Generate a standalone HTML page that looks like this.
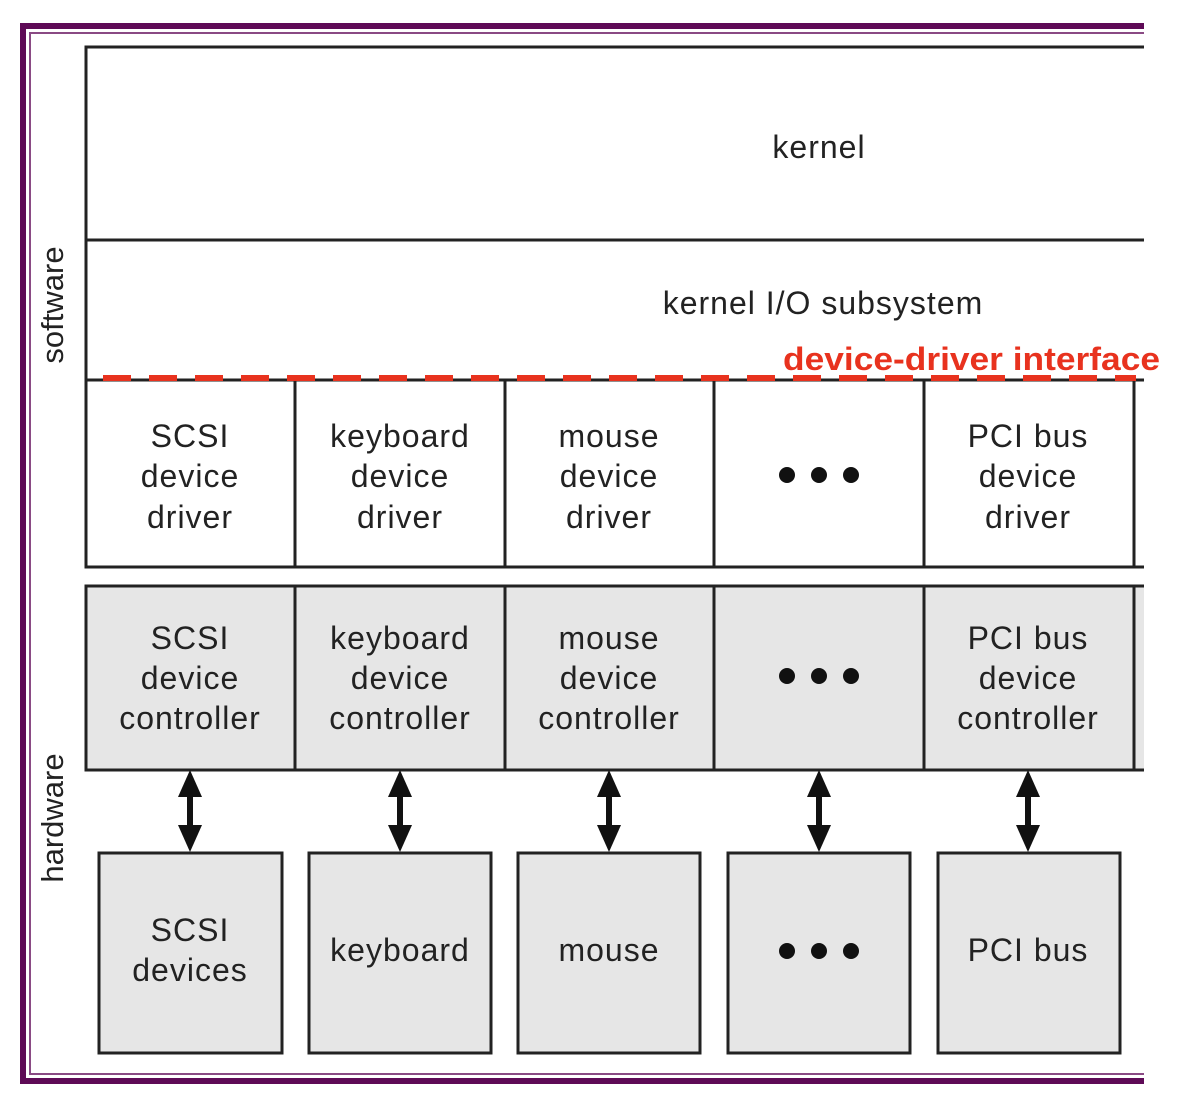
<!DOCTYPE html>
<html><head><style>
html,body{margin:0;padding:0;background:#fff;}
svg{display:block;}
text{font-family:"Liberation Sans",sans-serif;fill:#222;}
</style></head><body>
<svg width="1180" height="1102" viewBox="0 0 1180 1102" xmlns="http://www.w3.org/2000/svg">
<defs><clipPath id="c"><rect x="0" y="0" width="1144" height="1102"/></clipPath></defs>
<g clip-path="url(#c)">
<rect x="23" y="26" width="1200" height="1055" fill="none" stroke="#5e0a56" stroke-width="6"/>
<rect x="30" y="33" width="1200" height="1041" fill="none" stroke="#8a4a84" stroke-width="2"/>
<rect x="86" y="47" width="1200" height="333" fill="#fff" stroke="#222" stroke-width="3"/>
<line x1="86" y1="240" x2="1144" y2="240" stroke="#222" stroke-width="3"/>
<g fill="#fff" stroke="#222" stroke-width="3">
<rect x="86" y="380" width="209" height="187"/>
<rect x="295" y="380" width="210" height="187"/>
<rect x="505" y="380" width="209" height="187"/>
<rect x="714" y="380" width="210" height="187"/>
<rect x="924" y="380" width="210" height="187"/>
<rect x="1134" y="380" width="100" height="187"/>
</g>
<g fill="#e6e6e6" stroke="#222" stroke-width="3">
<rect x="86" y="586" width="209" height="184"/>
<rect x="295" y="586" width="210" height="184"/>
<rect x="505" y="586" width="209" height="184"/>
<rect x="714" y="586" width="210" height="184"/>
<rect x="924" y="586" width="210" height="184"/>
<rect x="1134" y="586" width="100" height="184"/>
<rect x="99" y="853" width="183" height="200"/>
<rect x="309" y="853" width="182" height="200"/>
<rect x="518" y="853" width="182" height="200"/>
<rect x="728" y="853" width="182" height="200"/>
<rect x="938" y="853" width="182" height="200"/>
</g>
</g>
<g fill="#111" stroke="#111">
<g id="a"><line x1="190" y1="790" x2="190" y2="832" stroke-width="6"/>
<polygon points="190,770 178,797 202,797" stroke="none"/>
<polygon points="190,852 178,825 202,825" stroke="none"/></g>
<use href="#a" x="210"/><use href="#a" x="419"/><use href="#a" x="629"/><use href="#a" x="838"/>
</g>
<line x1="103" y1="378" x2="1136" y2="378" stroke="#e8321e" stroke-width="6" stroke-dasharray="28,18"/>
<text x="783" y="370" font-size="32" font-weight="bold" textLength="377" lengthAdjust="spacingAndGlyphs" style="fill:#e8321e">device-driver interface</text>
<g font-size="32" text-anchor="middle" letter-spacing="1">
<text x="819" y="158">kernel</text>
<text x="823" y="314">kernel I/O subsystem</text>
<text x="190" y="447">SCSI</text><text x="190" y="487">device</text><text x="190" y="528">driver</text>
<text x="400" y="447">keyboard</text><text x="400" y="487">device</text><text x="400" y="528">driver</text>
<text x="609" y="447">mouse</text><text x="609" y="487">device</text><text x="609" y="528">driver</text>
<text x="1028" y="447">PCI bus</text><text x="1028" y="487">device</text><text x="1028" y="528">driver</text>
<text x="190" y="649">SCSI</text><text x="190" y="689">device</text><text x="190" y="729">controller</text>
<text x="400" y="649">keyboard</text><text x="400" y="689">device</text><text x="400" y="729">controller</text>
<text x="609" y="649">mouse</text><text x="609" y="689">device</text><text x="609" y="729">controller</text>
<text x="1028" y="649">PCI bus</text><text x="1028" y="689">device</text><text x="1028" y="729">controller</text>
<text x="190" y="941">SCSI</text><text x="190" y="981">devices</text>
<text x="400" y="961">keyboard</text>
<text x="609" y="961">mouse</text>
<text x="1028" y="961">PCI bus</text>
</g>
<g fill="#111">
<circle cx="787" cy="475" r="8"/><circle cx="819" cy="475" r="8"/><circle cx="851" cy="475" r="8"/>
<circle cx="787" cy="676" r="8"/><circle cx="819" cy="676" r="8"/><circle cx="851" cy="676" r="8"/>
<circle cx="787" cy="951" r="8"/><circle cx="819" cy="951" r="8"/><circle cx="851" cy="951" r="8"/>
</g>
<text x="0" y="0" font-size="31" text-anchor="middle" transform="translate(63,305) rotate(-90)">software</text>
<text x="0" y="0" font-size="31" text-anchor="middle" transform="translate(63,818) rotate(-90)">hardware</text>
</svg>
</body></html>
